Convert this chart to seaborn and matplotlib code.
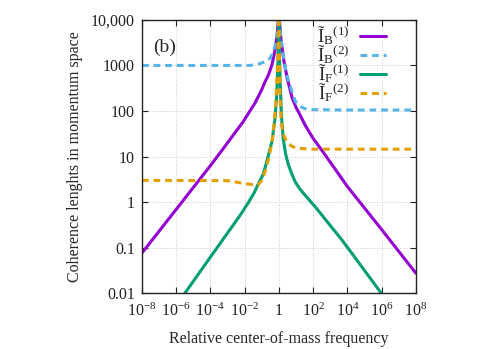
import pandas as pd
import seaborn as sns
import matplotlib.pyplot as plt

# Values (log-log axes)
b1_x = [1e-8, 1e-6, 1e-4, 4.8e-4, 7.9e-3, 0.041, 0.1, 0.155, 0.25, 0.4, 0.5, 0.63, 0.79, 0.91, 1.0,
        1.1, 1.26, 1.55, 2.0, 3.16, 5.9, 10, 17.4, 34, 100, 380, 1e4, 1e6, 1e8]
b1_y = [0.076, 0.69, 6.3, 13.8, 57, 151, 295, 437, 630, 1050, 1580, 2500, 4700, 8900, 16000,
        8900, 4470, 2400, 1200, 500, 195, 120, 81, 49, 25, 12.6, 2.2, 0.25, 0.0275]

b2_x = [1e-8, 1e-4, 0.02, 0.063, 0.155, 0.316, 0.5, 0.69, 0.89, 1.0,
        1.12, 1.55, 2.5, 4.0, 5.9, 8.9, 17.4, 34, 100, 1e4, 1e8]
b2_y = [1000, 1000, 1000, 1070, 1200, 1450, 2140, 3300, 6600, 16000,
        6600, 2400, 800, 400, 263, 166, 126, 112, 107, 105, 105]

f1_x = [2.5e-6, 1e-4, 5.4e-3, 0.0158, 0.0355, 0.063, 0.126, 0.234, 0.4, 0.6, 0.76, 0.89, 1.0,
        1.07, 1.2, 1.41, 1.78, 2.5, 3.6, 5.6, 8.9, 15.8, 34, 132, 794, 5000, 6.3e4, 9.5e5, 1.26e6]
f1_y = [0.0087, 0.062, 0.51, 0.95, 1.58, 2.5, 4.2, 10, 22, 71, 250, 1260, 16000,
        2000, 400, 80, 25, 11.2, 6.6, 4.2, 2.8, 2.0, 1.41, 0.79, 0.34, 0.145, 0.04, 0.01, 0.0087]

f2_x = [1e-8, 1e-3, 5.4e-3, 0.0316, 0.06, 0.1, 0.155, 0.25, 0.4, 0.56, 0.69, 0.83, 0.93, 1.0,
        1.07, 1.17, 1.32, 1.55, 2.0, 3.0, 5.0, 8.9, 32, 100, 1e4, 1e8]
f2_y = [3.0, 2.95, 2.65, 2.4, 2.35, 3.0, 4.6, 8.9, 21, 63, 195, 1000, 4000, 16000,
        2000, 195, 79, 43, 28, 21, 17.4, 15.5, 14.8, 14.5, 14.5, 14.5]

labels = ['Ĩ$_\\mathrm{B}$$^{(1)}$', 'Ĩ$_\\mathrm{B}$$^{(2)}$',
          'Ĩ$_\\mathrm{F}$$^{(1)}$', 'Ĩ$_\\mathrm{F}$$^{(2)}$']
colors = ['#9400d3', '#56b4e9', '#009e73', '#e69f00']

x_ticks = [1e-8, 1e-6, 1e-4, 1e-2, 1, 1e2, 1e4, 1e6, 1e8]
x_ticklabels = [r'$10^{-8}$', r'$10^{-6}$', r'$10^{-4}$', r'$10^{-2}$', '1',
                r'$10^{2}$', r'$10^{4}$', r'$10^{6}$', r'$10^{8}$']
y_ticks = [0.01, 0.1, 1, 10, 100, 1000, 10000]
y_ticklabels = ['0.01', '0.1', '1', '10', '100', '1000', '10,000']

sns.set_theme(style="ticks")
plt.rcParams['font.family'] = ['Liberation Serif', 'DejaVu Serif']
plt.rcParams['mathtext.fontset'] = 'custom'
plt.rcParams['mathtext.rm'] = 'Liberation Serif'
plt.rcParams['mathtext.it'] = 'Liberation Serif:italic'

fig = plt.figure(figsize=(4.98, 3.49), dpi=100)
ax = fig.add_axes([0.285, 0.16, 0.55, 0.783])

series = [(b1_x, b1_y, '-'), (b2_x, b2_y, (0, (2.2, 1.6))),
          (f1_x, f1_y, '-'), (f2_x, f2_y, (0, (2.2, 1.6)))]
for (xs, ys, ls), lab, col in zip(series, labels, colors):
    df = pd.DataFrame({'x': xs, 'y': ys})
    sns.lineplot(data=df, x='x', y='y', ax=ax, color=col, linewidth=2.2,
                 linestyle=ls, label=lab, estimator=None, sort=True)

ax.set_xscale('log')
ax.set_yscale('log')
ax.set_xlim(1e-8, 1e8)
ax.set_ylim(0.01, 10000)
ax.set_xticks(x_ticks)
ax.set_xticklabels(x_ticklabels)
ax.set_yticks(y_ticks)
ax.set_yticklabels(y_ticklabels)
ax.minorticks_off()
ax.tick_params(direction='in', top=True, right=True, length=4, width=0.8,
               labelsize=11.5, colors='#222222', pad=5)
ax.tick_params(axis='x', pad=7)
ax.grid(True, color='#bbbbbb', linestyle=(0, (1, 2)), linewidth=0.6)
for sp in ax.spines.values():
    sp.set_color('#222222')
    sp.set_linewidth(1.0)

ax.set_xlabel('Relative center-of-mass frequency', fontsize=11.5, labelpad=8)
ax.set_ylabel('Coherence lenghts in momentum space', fontsize=11.5, labelpad=6)
ax.text(0.04, 0.93, '(b)', transform=ax.transAxes, fontsize=14, va='top')

ax.legend(loc='upper right', bbox_to_anchor=(0.89, 0.985), frameon=False,
          markerfirst=False, handlelength=1.35, labelspacing=-0.2, fontsize=13.5,
          handletextpad=0.6, borderpad=0.0, borderaxespad=0.0)

fig.savefig('out.png', dpi=100)
